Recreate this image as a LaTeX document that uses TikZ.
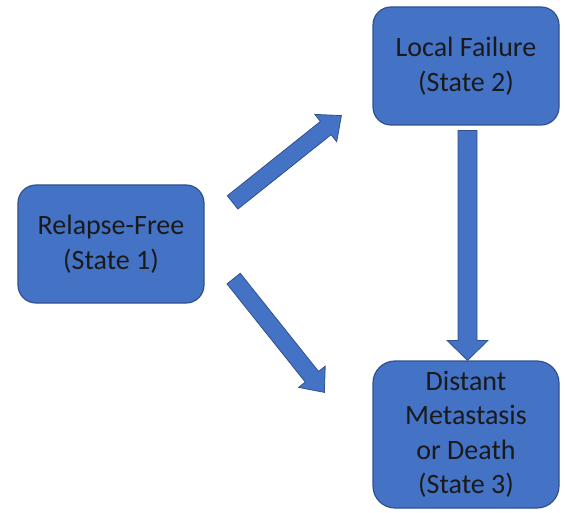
\documentclass[tikz,border=0pt]{standalone}
\usepackage{fontspec}
\setmainfont{Carlito}
\usetikzlibrary{calc}
\definecolor{statefill}{HTML}{4472C4}
\definecolor{stateedge}{HTML}{2F528F}
\definecolor{statetext}{HTML}{1A1A1A}
\tikzset{
  state/.style={draw=stateedge, fill=statefill, line width=1.2bp,
    rounded corners=18bp, minimum width=186bp, minimum height=118bp,
    align=center, text=statetext, font=\fontsize{28bp}{34.5bp}\selectfont},
  flow/.style 2 args={draw=stateedge, fill=statefill, line width=0.8bp,
    line join=miter, to path={
      ($(\tikztostart)!#1!90:(\tikztotarget)$)
      -- ($(\tikztotarget)!20bp!(\tikztostart)!#1!90:(\tikztotarget)$)
      -- ($(\tikztotarget)!20bp!(\tikztostart)!#2!90:(\tikztotarget)$)
      -- (\tikztotarget)
      -- ($(\tikztotarget)!20bp!(\tikztostart)!#2!-90:(\tikztotarget)$)
      -- ($(\tikztotarget)!20bp!(\tikztostart)!#1!-90:(\tikztotarget)$)
      -- ($(\tikztostart)!#1!-90:(\tikztotarget)$) -- cycle}}
}
\begin{document}
\begin{tikzpicture}[x=1bp, y=-1bp]
\useasboundingbox (0,0) rectangle (565,513);
\node[state] (s1) at (111,244) {Relapse-Free\\(State 1)};
\node[state] (s2) at (466,66) {Local Failure\\(State 2)};
\node[state, minimum height=147bp, rounded corners=22bp] (s3) at (466,434.5)
  {Distant\\Metastasis\\or Death\\(State 3)};
\coordinate (t12) at ($(s1.north east)+(28,18)$);
\coordinate (h12) at ($(s2.south west)+(-31,-10)$);
\coordinate (t13) at ($(s1.south east)+(29,-25)$);
\coordinate (h13) at ($(s3.north west)+(-48,32)$);
\coordinate (t23) at ($(s2.south)+(1.5,5)$);
\coordinate (h23) at ($(s3.north)+(1.5,0)$);
\draw[flow={8.5bp}{17.5bp}] (t12) to (h12);
\draw[flow={8.5bp}{17bp}] (t13) to (h13);
\draw[flow={9.5bp}{20.5bp}] (t23) to (h23);
\end{tikzpicture}
\end{document}
